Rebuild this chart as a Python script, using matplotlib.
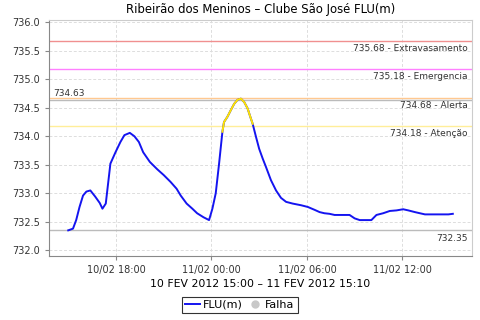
import matplotlib
matplotlib.use("Agg")
import matplotlib.pyplot as plt
import matplotlib.dates as mdates
from matplotlib.lines import Line2D
import numpy as np
from datetime import datetime, timedelta

# Hours since 10/02/2012 15:00 and level FLU(m)
hours = [0.0, 0.3, 0.5, 0.71, 0.93, 1.14, 1.39, 1.70, 1.98, 2.15, 2.36, 2.65, 2.97,
         3.28, 3.53, 3.87, 4.16, 4.44, 4.71, 5.13, 5.6, 6.0, 6.43, 6.81, 7.07, 7.44,
         7.8, 8.1, 8.5, 8.85, 9.06, 9.27, 9.48, 9.69, 9.79, 10.0, 10.22, 10.43, 10.64,
         10.85, 11.06, 11.27, 11.48, 11.59, 11.80, 12.0, 12.22, 12.43, 12.74, 13.06,
         13.37, 13.69, 14.1, 14.64, 15.06, 15.48, 15.8, 16.1, 16.42, 16.74, 17.68,
         18.0, 18.32, 19.05, 19.37, 19.79, 20.21, 20.63, 21.05, 21.37, 21.79, 22.1,
         22.42, 23.89, 24.17]
levels = [732.35, 732.38, 732.53, 732.76, 732.96, 733.03, 733.05, 732.94, 732.83,
          732.73, 732.82, 733.52, 733.72, 733.90, 734.02, 734.06, 734.00, 733.90,
          733.72, 733.55, 733.42, 733.32, 733.20, 733.08, 732.96, 732.82, 732.73,
          732.65, 732.58, 732.53, 732.73, 733.00, 733.52, 734.08, 734.25, 734.34,
          734.46, 734.57, 734.64, 734.66, 734.60, 734.49, 734.31, 734.22, 733.99,
          733.78, 733.61, 733.46, 733.23, 733.05, 732.92, 732.85, 732.82, 732.79,
          732.76, 732.71, 732.67, 732.65, 732.64, 732.62, 732.62, 732.56, 732.53,
          732.53, 732.62, 732.65, 732.69, 732.70, 732.72, 732.70, 732.67, 732.65,
          732.63, 732.63, 732.64]

threshold_values = [735.68, 735.18, 734.68, 734.18]
threshold_names = ["Extravasamento", "Emergencia", "Alerta", "Atenção"]
threshold_colors = ["#F09090", "#FF80FF", "#FFC890", "#FFEE99"]
max_level = 734.63
min_level = 732.35
yticks = [732.0, 732.5, 733.0, 733.5, 734.0, 734.5, 735.0, 735.5, 736.0]

start = datetime(2012, 2, 10, 15, 0)
end = datetime(2012, 2, 11, 15, 10)
times = [start + timedelta(hours=h) for h in hours]
xticks = [datetime(2012, 2, 10, 18), datetime(2012, 2, 11, 0),
          datetime(2012, 2, 11, 6), datetime(2012, 2, 11, 12)]

fig = plt.figure(figsize=(4.8, 3.2), dpi=100)
ax = fig.add_axes([49/480, 1-256/320, 423/480, 236/320])

span = end - start
ax.set_xlim(start - span*0.05, end + span*0.05)
ax.set_ylim(731.9, 736.04)

ax.grid(True, color="#DDDDDD", linestyle=(0, (3, 2)), linewidth=0.7)
ax.set_axisbelow(True)

for v, n, c in zip(threshold_values, threshold_names, threshold_colors):
    ax.axhline(v, color=c, linewidth=1.0)
    ax.text(0.99, v - 0.06, f"{v:.2f} - {n}", transform=ax.get_yaxis_transform(),
            ha="right", va="top", fontsize=6.5, color="#333333")
ax.axhline(max_level, color="#BBBBBB", linewidth=1.0)
ax.text(0.01, max_level + 0.04, f"{max_level:.2f}", transform=ax.get_yaxis_transform(),
        ha="left", va="bottom", fontsize=6.5, color="#333333")
ax.axhline(min_level, color="#BBBBBB", linewidth=1.0)
ax.text(0.99, min_level - 0.06, f"{min_level:.2f}", transform=ax.get_yaxis_transform(),
        ha="right", va="top", fontsize=6.5, color="#333333")

ax.plot(times, levels, color="#1414F0", linewidth=1.4, zorder=3)
yt = [t for t, v in zip(times, levels) if v >= 734.08]
yv = [v for v in levels if v >= 734.08]
ax.plot(yt, yv, color="#FFE400", linewidth=1.4, zorder=4)

ax.set_xticks(xticks)
ax.xaxis.set_major_formatter(mdates.DateFormatter("%d/%m %H:%M"))
ax.set_yticks(yticks)
ax.yaxis.set_major_formatter(matplotlib.ticker.FormatStrFormatter("%.1f"))
ax.tick_params(labelsize=7, colors="#333333", length=3, width=0.8)
ax.tick_params(axis="both", color="#888888")
for s in ["left", "bottom"]:
    ax.spines[s].set_color("#888888")
for s in ["top", "right"]:
    ax.spines[s].set_color("#CCCCCC")

ax.set_title("Ribeirão dos Meninos – Clube São José FLU(m)", fontsize=8.4, pad=5)
ax.set_xlabel("10 FEV 2012 15:00 – 11 FEV 2012 15:10", fontsize=7.8, labelpad=3)

handles = [Line2D([0], [0], color="#1414F0", linewidth=1.4),
           Line2D([0], [0], color="#C8C8C8", marker="o", linestyle="None", markersize=5)]
leg = fig.legend(handles, ["FLU(m)", "Falha"], loc="center", bbox_to_anchor=(0.5, 0.047),
                 ncol=2, fontsize=8, frameon=True, fancybox=False, edgecolor="black",
                 handlelength=1.3, handletextpad=0.3, columnspacing=0.4,
                 borderpad=0.3)
leg.get_frame().set_linewidth(0.8)

fig.savefig("out.png", dpi=100)
